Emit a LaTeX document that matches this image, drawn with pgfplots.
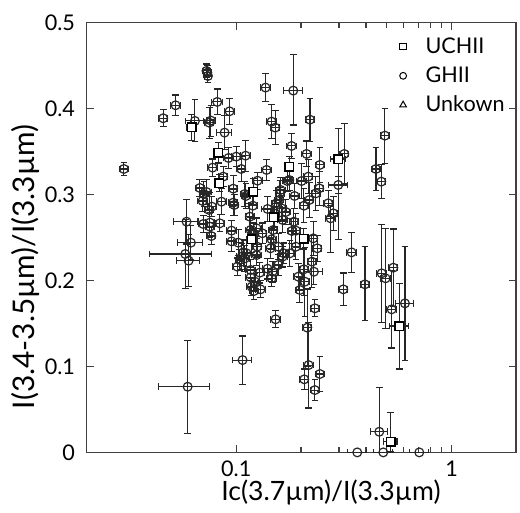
\documentclass[border=0pt]{standalone}
\usepackage{fontspec}
\setmainfont{Lato}
\usepackage{pgfplots}
\pgfplotsset{compat=1.18}
\usepackage{pgfplotstable}

\pgfplotstableread{
x y ex eyp eym
0.0301 0.3297 0.05 0.008 0.008
0.0458 0.3887 0.05 0.010 0.010
0.0523 0.4038 0.05 0.012 0.012
0.0643 0.3856 0.10 0.025 0.024
0.0728 0.4438 0.04 0.008 0.008
0.0734 0.4418 0.04 0.008 0.008
0.0739 0.4379 0.04 0.008 0.008
0.0749 0.3836 0.05 0.018 0.018
0.0763 0.3860 0.05 0.018 0.018
0.0816 0.4077 0.06 0.015 0.015
0.0883 0.3720 0.08 0.020 0.020
0.0931 0.3968 0.05 0.015 0.015
0.0921 0.3425 0.05 0.012 0.012
0.1000 0.3441 0.05 0.012 0.012
0.1105 0.3452 0.05 0.018 0.018
0.1055 0.3297 0.05 0.015 0.015
0.0777 0.3313 0.05 0.010 0.010
0.0870 0.3208 0.05 0.012 0.012
0.1256 0.3161 0.05 0.010 0.010
0.1383 0.3286 0.05 0.012 0.012
0.0678 0.3076 0.05 0.010 0.010
0.0708 0.3006 0.05 0.015 0.015
0.0728 0.3029 0.05 0.015 0.015
0.0698 0.2925 0.05 0.012 0.012
0.0749 0.2820 0.05 0.020 0.020
0.0771 0.2859 0.05 0.012 0.012
0.0703 0.2657 0.05 0.010 0.010
0.0755 0.2673 0.05 0.012 0.012
0.0755 0.2626 0.05 0.012 0.012
0.0766 0.2517 0.05 0.010 0.010
0.0840 0.2665 0.05 0.010 0.010
0.0855 0.2917 0.05 0.015 0.015
0.0968 0.3068 0.05 0.015 0.015
0.0968 0.2905 0.05 0.015 0.015
0.0979 0.2878 0.05 0.012 0.012
0.1097 0.3006 0.05 0.015 0.015
0.1109 0.2983 0.05 0.015 0.015
0.1195 0.2870 0.05 0.015 0.015
0.0951 0.2580 0.05 0.012 0.012
0.0951 0.2455 0.05 0.012 0.012
0.1022 0.2440 0.05 0.015 0.015
0.1011 0.2161 0.05 0.010 0.010
0.1040 0.2238 0.05 0.012 0.012
0.1059 0.2277 0.05 0.015 0.015
0.1078 0.2327 0.05 0.015 0.015
0.1097 0.2258 0.05 0.015 0.015
0.1117 0.2316 0.05 0.015 0.015
0.1157 0.2742 0.05 0.015 0.015
0.1166 0.2587 0.05 0.015 0.015
0.1200 0.2549 0.05 0.012 0.012
0.1243 0.2607 0.05 0.012 0.012
0.1252 0.2393 0.05 0.012 0.012
0.1243 0.2296 0.05 0.012 0.012
0.1166 0.2122 0.05 0.012 0.012
0.1166 0.2036 0.05 0.012 0.012
0.1178 0.1928 0.05 0.010 0.010
0.1208 0.1877 0.05 0.010 0.010
0.1221 0.1986 0.05 0.010 0.010
0.1288 0.2091 0.05 0.012 0.012
0.1297 0.1897 0.05 0.010 0.010
0.1321 0.2549 0.05 0.012 0.012
0.1398 0.2832 0.06 0.015 0.015
0.1398 0.2137 0.05 0.012 0.012
0.1443 0.2374 0.05 0.012 0.012
0.1459 0.2479 0.05 0.012 0.012
0.1459 0.2025 0.05 0.010 0.010
0.1475 0.2102 0.05 0.012 0.012
0.1485 0.2587 0.05 0.015 0.015
0.1512 0.2777 0.05 0.015 0.015
0.1523 0.1548 0.05 0.010 0.010
0.1539 0.2898 0.05 0.015 0.015
0.1567 0.2393 0.05 0.015 0.015
0.1567 0.2180 0.05 0.012 0.012
0.1595 0.3014 0.05 0.015 0.015
0.1607 0.3053 0.05 0.015 0.015
0.1584 0.2936 0.05 0.015 0.015
0.1624 0.2839 0.05 0.015 0.015
0.1642 0.2704 0.05 0.015 0.015
0.1642 0.2277 0.05 0.012 0.012
0.1665 0.2316 0.05 0.012 0.012
0.1701 0.2797 0.05 0.015 0.015
0.1725 0.3157 0.05 0.012 0.012
0.1775 0.2316 0.05 0.015 0.015
0.1813 0.2576 0.05 0.015 0.015
0.1853 0.2684 0.05 0.015 0.015
0.1866 0.2983 0.05 0.015 0.015
0.1893 0.2393 0.05 0.015 0.015
0.1893 0.2580 0.05 0.020 0.020
0.1941 0.2044 0.05 0.015 0.015
0.1975 0.1889 0.05 0.015 0.015
0.2011 0.3157 0.05 0.020 0.020
0.2062 0.2870 0.05 0.020 0.020
0.2062 0.2130 0.05 0.030 0.030
0.2084 0.1986 0.05 0.040 0.040
0.2121 0.3472 0.05 0.015 0.015
0.2160 0.3208 0.05 0.020 0.020
0.2183 0.2936 0.05 0.020 0.020
0.2199 0.3871 0.05 0.025 0.025
0.2246 0.2219 0.05 0.030 0.030
0.2278 0.2490 0.05 0.020 0.020
0.2295 0.2102 0.10 0.015 0.015
0.2319 0.1676 0.05 0.010 0.010
0.2344 0.3014 0.05 0.020 0.020
0.2378 0.2374 0.05 0.015 0.015
0.2429 0.3072 0.05 0.020 0.020
0.2446 0.3344 0.05 0.020 0.020
0.2674 0.2898 0.05 0.015 0.015
0.2742 0.2723 0.05 0.015 0.040
0.2821 0.2781 0.05 0.020 0.020
0.2976 0.3111 0.10 0.010 0.010
0.3173 0.3472 0.05 0.035 0.035
0.3433 0.2327 0.05 0.023 0.023
0.3140 0.1897 0.05 0.019 0.019
0.3959 0.1955 0.05 0.044 0.042
0.4453 0.3297 0.05 0.025 0.025
0.4714 0.3150 0.05 0.020 0.020
0.4901 0.3685 0.05 0.032 0.032
0.4731 0.2083 0.05 0.057 0.057
0.4936 0.2025 0.05 0.058 0.058
0.5360 0.2149 0.05 0.045 0.045
0.5266 0.1664 0.05 0.045 0.045
0.6072 0.1734 0.10 0.066 0.066
0.2137 0.1451 0.05 0.045 0.045
0.2167 0.1016 0.05 0.050 0.050
0.2069 0.0850 0.05 0.012 0.012
0.2319 0.0725 0.05 0.012 0.012
0.2446 0.0912 0.05 0.020 0.020
0.1070 0.1074 0.10 0.028 0.028
0.0595 0.0764 0.265 0.054 0.054
0.0588 0.2684 0.13 0.026 0.026
0.0616 0.2440 0.13 0.020 0.020
0.0580 0.2308 0.32 0.040 0.040
0.0601 0.2230 0.12 0.030 0.030
0.4614 0.0240 0.09 0.052 0.052
0.3647 0.0000 0.10 0.000 0.000
0.4816 0.0000 0.10 0.000 0.000
0.7076 0.0000 0.10 0.000 0.000
0.1368 0.4244 0.05 0.016 0.016
0.1840 0.4209 0.10 0.042 0.040
0.1459 0.3848 0.05 0.020 0.020
0.1517 0.3778 0.05 0.020 0.020
0.1807 0.3565 0.05 0.015 0.015
0.1762 0.3169 0.05 0.012 0.012
}\ghii

\pgfplotstableread{
x y ex eyp eym
0.0621 0.3782 0.05 0.015 0.015
0.0825 0.3487 0.05 0.012 0.012
0.0834 0.3130 0.05 0.010 0.010
0.1200 0.3033 0.05 0.015 0.015
0.1762 0.3324 0.05 0.012 0.012
0.2976 0.3413 0.08 0.036 0.094
0.1496 0.2735 0.05 0.012 0.012
0.1178 0.2479 0.05 0.015 0.015
0.2062 0.2486 0.05 0.012 0.012
0.5715 0.1470 0.10 0.050 0.050
0.5209 0.0124 0.07 0.034 0.012
}\uchii

\begin{document}
\begin{tikzpicture}
\begin{axis}[
  scale only axis,
  width=214.7pt, height=214.9pt,
  xmode=log, xmin=0.0202, xmax=1.99,
  ymin=0, ymax=0.5,
  xtick={0.1,1}, xticklabels={0.1,1},
  minor xtick={},
  ytick={0,0.1,0.2,0.3,0.4,0.5},
  yticklabels={0,0.1,0.2,0.3,0.4,0.5},
  tick align=inside,
  major tick length=3.5pt,
  every tick/.style={black!75, line width=0.6pt},
  axis line style={black!75, line width=0.8pt},
  tick label style={font=\fontsize{10.8}{12}\selectfont},
  yticklabel style={xshift=-2.3pt},
  xticklabel style={yshift=-0.6pt},
  xlabel={Ic(3.7µm)/I(3.3µm)},
  xlabel style={font=\fontsize{13.3}{15}\selectfont, at={(axis description cs:0.569,-0.062)}, anchor=north, inner sep=0pt},
  legend style={draw=none, fill=none, at={(axis description cs:0.712,0.985)}, anchor=north west,
    font=\fontsize{10.8}{12}\selectfont, row sep=1.2pt},
  legend cell align=left,
  legend image code/.code={\draw[#1] plot coordinates {(0pt,0pt)}; \path (-2pt,0pt) (9pt,0pt);},
]
\addplot[only marks, mark=o, mark size=2.2pt, black!85, mark options={line width=0.6pt}, forget plot,
  error bars/.cd, x dir=both, x explicit relative, y dir=both, y explicit,
  error bar style={line width=0.55pt, black!85},
  error mark options={rotate=90, mark size=1.7pt, line width=0.55pt, black!85}]
  table[x=x, y=y, x error=ex, y error plus=eyp, y error minus=eym] {\ghii};
\addplot[only marks, mark=square*, mark size=2.1pt, black, mark options={fill=white, line width=0.7pt}, forget plot,
  error bars/.cd, x dir=both, x explicit relative, y dir=both, y explicit,
  error bar style={line width=0.55pt, black!85},
  error mark options={rotate=90, mark size=1.7pt, line width=0.55pt, black!85}]
  table[x=x, y=y, x error=ex, y error plus=eyp, y error minus=eym] {\uchii};
\addlegendimage{only marks, mark=square, mark size=1.6pt, black, mark options={line width=0.5pt}}
\addlegendentry{UCHII}
\addlegendimage{only marks, mark=o, mark size=1.7pt, black, mark options={line width=0.5pt}}
\addlegendentry{GHII}
\addlegendimage{only marks, mark=triangle, mark size=1.9pt, black, mark options={line width=0.5pt}}
\addlegendentry{Unkown}
\coordinate (SW) at (rel axis cs:0,0);
\coordinate (NE) at (rel axis cs:1,1);
\end{axis}
\node[rotate=90, anchor=center, inner sep=0pt, font=\fontsize{14.9}{16}\selectfont]
  at ([xshift=-30.3pt,yshift=92.8pt]SW) {I(3.4-3.5µm)/I(3.3µm)};
\pgfresetboundingbox
\path ([xshift=-43.3pt,yshift=-29.85pt]SW) rectangle ([xshift=2pt,yshift=11.3pt]NE);
\end{tikzpicture}
\end{document}
